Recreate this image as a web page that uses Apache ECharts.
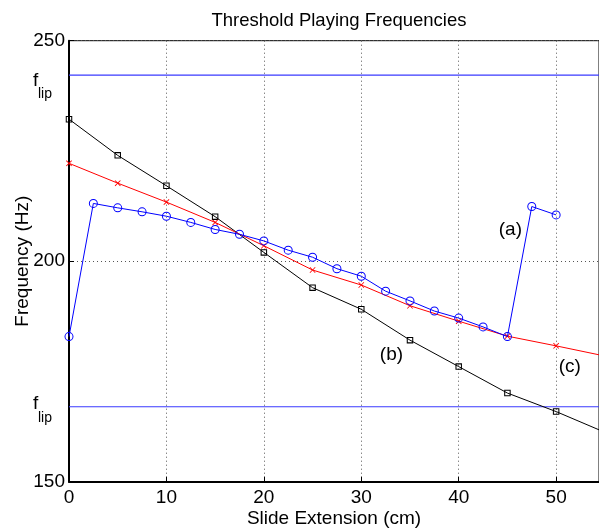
<!DOCTYPE html>
<html><head><meta charset="utf-8">
<script src="https://cdn.jsdelivr.net/npm/echarts@6/dist/echarts.min.js"></script>
<style>html,body{margin:0;padding:0;background:#fff}#c{width:599px;height:531px}</style>
</head><body><div id="c"></div>
<script>
var xB = [0,5,10,15,20,25,30,35,40,45,50,55];
var yB = [232.2,224.0,217.1,210.1,202.0,194.0,189.1,182.1,176.1,170.1,165.9,161.2];
var xC = [0,5,10,15,20,25,30,35,40,45,50,55];
var yC = [222.2,217.7,213.4,208.8,203.5,198.0,194.6,189.9,186.4,183.0,180.8,178.5];
var xA = [0,2.5,5,7.5,10,12.5,15,17.5,20,22.5,25,27.5,30,32.5,35,37.5,40,42.5,45,47.5,50];
var yA = [182.9,213.1,212.1,211.2,210.2,208.8,207.2,206.1,204.6,202.5,200.9,198.3,196.6,193.2,191.0,188.7,187.1,185.1,182.9,212.4,210.5];
var flipValues = [242.2, 167.0];
var xTicks = [0,10,20,30,40,50];
var yTicks = [150,200,250];
var annText = ['(a)','(b)','(c)'];
var annX = [45.3, 33.1, 51.4];
var annY = [207.1, 178.7, 176.0];
var xMax = 54.4;

// layout-only offsets (pixels) for the f_lip labels
var flipOffF = [-4, -12];
var flipOffLip = [12, 4];

function pairs(xs, ys){ return xs.map(function(x,i){return [x, ys[i]];}); }
var FONT = '"Liberation Sans", Arial, Helvetica, sans-serif';
var cross = 'path://M0,1 L1,0 L5,4 L9,0 L10,1 L6,5 L10,9 L9,10 L5,6 L1,10 L0,9 L4,5 Z';
var ring = 'path://M5,0 A5,5 0 1,1 5,10 A5,5 0 1,1 5,0 Z M5,1.1 A3.9,3.9 0 1,0 5,8.9 A3.9,3.9 0 1,0 5,1.1 Z';
var box = 'path://M0,0 L10,0 L10,10 L0,10 Z M1.6,1.6 L1.6,8.4 L8.4,8.4 L8.4,1.6 Z';

var chart = echarts.init(document.getElementById('c'));
var series = [];
flipValues.forEach(function(v){
  series.push({type:'line', data:[[0,v],[60,v]], symbol:'none', silent:true,
    lineStyle:{color:'#3a3aff', width:1.2}, z:1});
});
series.push({type:'line', data:pairs(xB,yB), symbol:box, symbolSize:6.5, symbolKeepAspect:true,
  lineStyle:{color:'#000', width:1}, itemStyle:{color:'#000'}, z:3});
series.push({type:'line', data:pairs(xC,yC), symbol:cross, symbolSize:6,
  lineStyle:{color:'#ff0000', width:1}, itemStyle:{color:'#ff0000'}, z:4});
series.push({type:'line', data:pairs(xA,yA), symbol:ring, symbolSize:9, symbolKeepAspect:true,
  lineStyle:{color:'#0000ff', width:1}, itemStyle:{color:'#0000ff'}, z:5});

chart.setOption({
  animation:false,
  backgroundColor:'#fff',
  title:{text:'Threshold Playing Frequencies', left:334, textAlign:'center', top:6,
    textStyle:{fontSize:18.5, fontWeight:'normal', color:'#000', fontFamily:FONT}},
  grid:{left:69, right:0, top:40.7, bottom:49.3, outerBoundsMode:'none', containLabel:false,
    show:true, borderColor:'#000', borderWidth:1, backgroundColor:'transparent'},
  xAxis:{type:'value', min:0, max:xMax, interval:10,
    name:'Slide Extension (cm)', nameLocation:'middle', nameGap:37, nameMoveOverlap:false,
    nameTextStyle:{fontSize:19, color:'#000', fontFamily:FONT, verticalAlign:'middle'},
    axisLine:{lineStyle:{color:'#000', width:2}},
    axisTick:{inside:true, length:5, lineStyle:{color:'#000'}},
    axisLabel:{color:'#000', fontSize:19, fontFamily:FONT, margin:7,
      formatter:function(v){return xTicks.indexOf(v)>=0 ? String(v) : '';}},
    splitLine:{show:true, lineStyle:{color:'#555', type:[1,3], width:1}}},
  yAxis:{type:'value', min:150, max:250, interval:50,
    name:'Frequency (Hz)', nameLocation:'middle', nameGap:46, nameRotate:90, nameMoveOverlap:false,
    nameTextStyle:{fontSize:19, color:'#000', fontFamily:FONT, verticalAlign:'middle'},
    axisLine:{show:true, lineStyle:{color:'#000', width:2}},
    axisTick:{inside:true, length:5, lineStyle:{color:'#000'}},
    axisLabel:{color:'#000', fontSize:19, fontFamily:FONT, margin:4,
      formatter:function(v){return yTicks.indexOf(v)>=0 ? String(v) : '';}},
    splitLine:{show:true, lineStyle:{color:'#555', type:[1,3], width:1}}},
  series:series
});

var g = [];
flipValues.forEach(function(v, i){
  var p = chart.convertToPixel({xAxisIndex:0, yAxisIndex:0}, [0, v]);
  g.push({type:'text', x:33, y:p[1]+flipOffF[i], style:{text:'f', font:'19px '+FONT, fill:'#000'}});
  g.push({type:'text', x:38, y:p[1]+flipOffLip[i], style:{text:'lip', font:'14px '+FONT, fill:'#000'}});
});
annText.forEach(function(t, i){
  var p = chart.convertToPixel({xAxisIndex:0, yAxisIndex:0}, [annX[i], annY[i]]);
  g.push({type:'text', x:p[0], y:p[1], style:{text:t, font:'19px '+FONT, fill:'#000', align:'center', verticalAlign:'middle'}});
});
chart.setOption({graphic:g});
</script></body></html>
